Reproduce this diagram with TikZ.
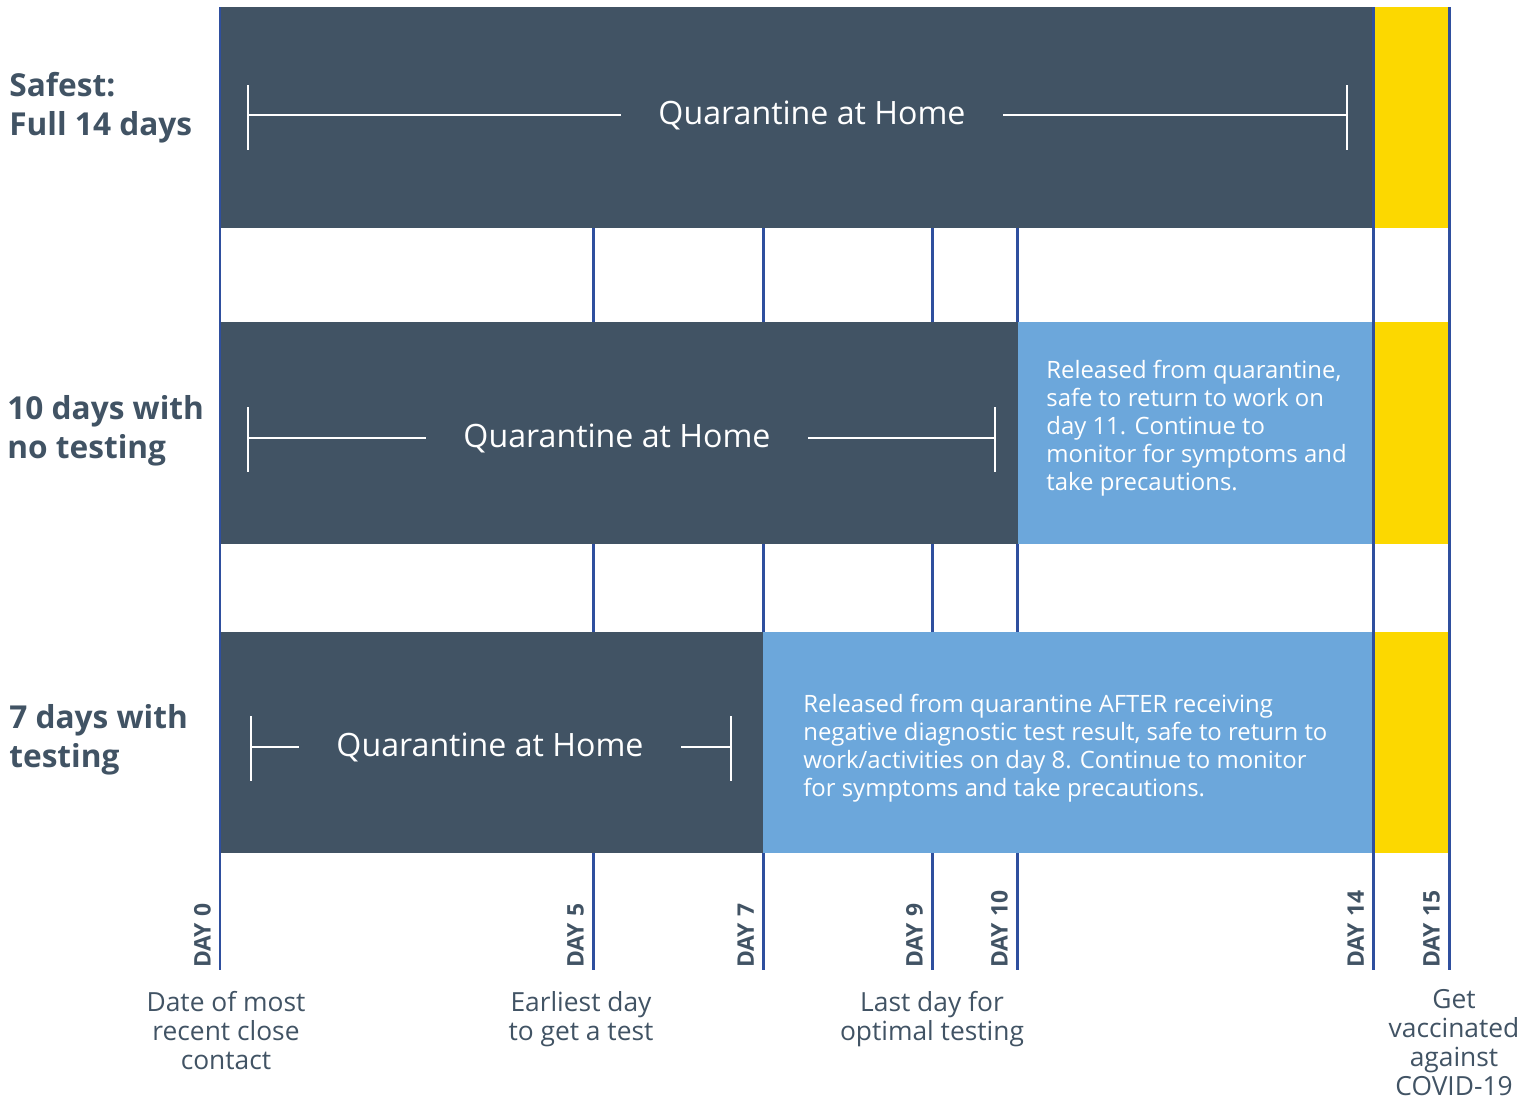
\documentclass[tikz,border=0pt]{standalone}
\usepackage{fontspec}
\setmainfont{Open Sans}
\definecolor{slate}{HTML}{415364}
\definecolor{relblue}{HTML}{6CA7DB}
\definecolor{vaxyellow}{HTML}{FCD800}
\definecolor{dayblue}{HTML}{2F4F9E}
\tikzset{
  darkbar/.style={fill=slate},
  relbar/.style={fill=relblue},
  vaxbar/.style={fill=vaxyellow},
  dayline/.style={draw=dayblue, line width=1.7pt},
  daylabel/.style={rotate=90, anchor=south west, inner sep=1pt, text=slate,
    font=\fontsize{13}{14}\selectfont\bfseries},
  rowlabel/.style={anchor=west, align=left, inner sep=0pt, text=slate,
    font=\fontsize{18}{22}\selectfont\bfseries},
  qlabel/.style={text=white, inner xsep=0.75cm, inner ysep=0pt,
    font=\fontsize{18.3}{20}\selectfont},
  reltext/.style={anchor=north west, align=left, inner sep=0pt, text=white,
    font=\fontsize{13.6}{15.9}\selectfont},
  footlabel/.style={anchor=north, align=center, inner sep=0pt, text=slate,
    font=\fontsize{15}{16.6}\selectfont},
  bracket/.style={draw=white, line width=1.1pt}
}
\begin{document}
\begin{tikzpicture}[x=0.02cm, y=-0.02cm]
\useasboundingbox (0,0) rectangle (1533,1103);

% day lines that sit behind the bars
\foreach \x in {593,763,932,1017}
  \draw[dayline] (\x,7) -- (\x,970);

% bars
\fill[darkbar] (220,7) rectangle (1373,228);
\fill[vaxbar] (1374,7) rectangle (1448,228);
\fill[darkbar] (220,322) rectangle (1018,544);
\fill[relbar] (1018,322) rectangle (1372,544);
\fill[vaxbar] (1374,322) rectangle (1448,544);
\fill[darkbar] (220,632) rectangle (763,853);
\fill[relbar] (763,632) rectangle (1372,853);
\fill[vaxbar] (1374,632) rectangle (1448,853);

% day lines on top
\foreach \x in {220,1373,1449}
  \draw[dayline] (\x,7) -- (\x,970);

% day labels
\foreach \x/\d in {220/0,593/5,763/7,932/9,1017/10,1373/14,1449/15}
  \node[daylabel] (day\d) at (\x-7,970) {DAY \d};

% row labels
\node[rowlabel] (safest) at (9,108) {Safest:\\Full 14 days};
\node[rowlabel] (notest) at (7,431) {10 days with\\no testing};
\node[rowlabel] (withtest) at (9,740) {7 days with\\testing};

% quarantine brackets
\node[qlabel] (q1) at (812,115) {Quarantine at Home};
\coordinate (q1l) at (248,115);
\coordinate (q1r) at (1347,115);
\draw[bracket] (q1l) -- (q1.west) (q1.east) -- (q1r);
\draw[bracket] (q1l) ++(0,-30) -- ++(0,65);
\draw[bracket] (q1r) ++(0,-30) -- ++(0,65);

\node[qlabel] (q2) at (617,438) {Quarantine at Home};
\coordinate (q2l) at (248,438);
\coordinate (q2r) at (995,438);
\draw[bracket] (q2l) -- (q2.west) (q2.east) -- (q2r);
\draw[bracket] (q2l) ++(0,-31) -- ++(0,65);
\draw[bracket] (q2r) ++(0,-31) -- ++(0,65);

\node[qlabel] (q3) at (490,747) {Quarantine at Home};
\coordinate (q3l) at (251,747);
\coordinate (q3r) at (731,747);
\draw[bracket] (q3l) ++(0,-31) -- ++(0,65);
\draw[bracket] (q3r) ++(0,-31) -- ++(0,65);
\draw[bracket] (q3l) -- (q3.west) (q3.east) -- (q3r);

% release notes
\node[reltext] (rel10) at (1046,360) {Released from quarantine,\\safe to return to work on\\day 11. Continue to\\monitor for symptoms and\\take precautions.};
\node[reltext] (rel7) at (803,694) {Released from quarantine AFTER receiving\\negative diagnostic test result, safe to return to\\work/activities on day 8. Continue to monitor\\for symptoms and take precautions.};

% notes under the time line
\node[footlabel] (contact) at (226,991) {Date of most\\recent close\\contact};
\node[footlabel] (earliest) at (581,991) {Earliest day\\to get a test};
\node[footlabel] (optimal) at (932,991) {Last day for\\optimal testing};
\node[footlabel] (vaccine) at (1454,989) {Get\\vaccinated\\against\\COVID-19};
\end{tikzpicture}
\end{document}
